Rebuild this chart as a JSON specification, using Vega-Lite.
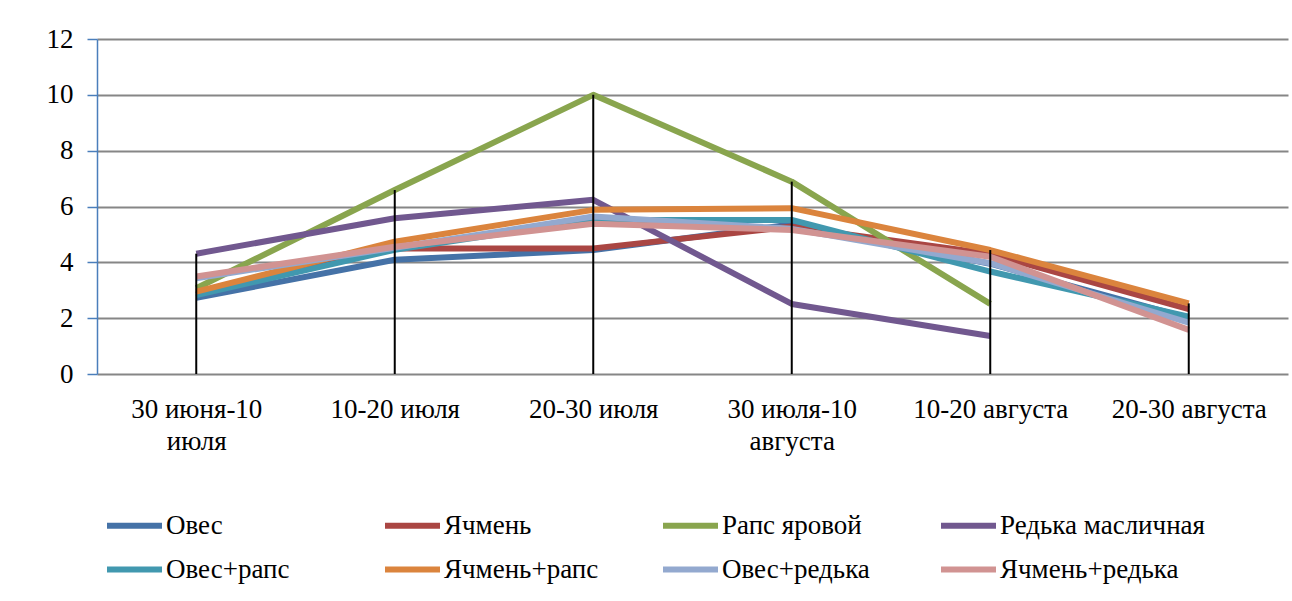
{
  "$schema": "https://vega.github.io/schema/vega-lite/v6.json",
  "width": 1191,
  "height": 335,
  "autosize": {"type": "none"},
  "padding": {"left": 97, "top": 39, "right": 4, "bottom": 227},
  "background": "white",
  "config": {
    "view": {"stroke": null},
    "font": "Liberation Serif",
    "axis": {"labelFont": "Liberation Serif", "labelFontSize": 27},
    "legend": {"labelFont": "Liberation Serif", "labelFontSize": 27}
  },
  "data": {
    "values": [
      {"series": "Овес", "period": "30 июня-10 июля", "v": 2.73},
      {"series": "Овес", "period": "10-20 июля", "v": 4.09},
      {"series": "Овес", "period": "20-30 июля", "v": 4.44},
      {"series": "Овес", "period": "30 июля-10 августа", "v": 5.36},
      {"series": "Овес", "period": "10-20 августа", "v": 3.95},
      {"series": "Овес", "period": "20-30 августа", "v": 2.0},
      {"series": "Ячмень", "period": "30 июня-10 июля", "v": 2.85},
      {"series": "Ячмень", "period": "10-20 июля", "v": 4.5},
      {"series": "Ячмень", "period": "20-30 июля", "v": 4.5},
      {"series": "Ячмень", "period": "30 июля-10 августа", "v": 5.28},
      {"series": "Ячмень", "period": "10-20 августа", "v": 4.3},
      {"series": "Ячмень", "period": "20-30 августа", "v": 2.32},
      {"series": "Рапс яровой", "period": "30 июня-10 июля", "v": 3.07},
      {"series": "Рапс яровой", "period": "10-20 июля", "v": 6.59},
      {"series": "Рапс яровой", "period": "20-30 июля", "v": 10.0},
      {"series": "Рапс яровой", "period": "30 июля-10 августа", "v": 6.89},
      {"series": "Рапс яровой", "period": "10-20 августа", "v": 2.51},
      {"series": "Редька масличная", "period": "30 июня-10 июля", "v": 4.31},
      {"series": "Редька масличная", "period": "10-20 июля", "v": 5.58},
      {"series": "Редька масличная", "period": "20-30 июля", "v": 6.24},
      {"series": "Редька масличная", "period": "30 июля-10 августа", "v": 2.51},
      {"series": "Редька масличная", "period": "10-20 августа", "v": 1.36},
      {"series": "Овес+рапс", "period": "30 июня-10 июля", "v": 2.83},
      {"series": "Овес+рапс", "period": "10-20 июля", "v": 4.45},
      {"series": "Овес+рапс", "period": "20-30 июля", "v": 5.52},
      {"series": "Овес+рапс", "period": "30 июля-10 августа", "v": 5.52},
      {"series": "Овес+рапс", "period": "10-20 августа", "v": 3.67},
      {"series": "Овес+рапс", "period": "20-30 августа", "v": 2.05},
      {"series": "Ячмень+рапс", "period": "30 июня-10 июля", "v": 2.95},
      {"series": "Ячмень+рапс", "period": "10-20 июля", "v": 4.74},
      {"series": "Ячмень+рапс", "period": "20-30 июля", "v": 5.88},
      {"series": "Ячмень+рапс", "period": "30 июля-10 августа", "v": 5.94},
      {"series": "Ячмень+рапс", "period": "10-20 августа", "v": 4.44},
      {"series": "Ячмень+рапс", "period": "20-30 августа", "v": 2.53},
      {"series": "Овес+редька", "period": "30 июня-10 июля", "v": 3.43},
      {"series": "Овес+редька", "period": "10-20 июля", "v": 4.52},
      {"series": "Овес+редька", "period": "20-30 июля", "v": 5.64},
      {"series": "Овес+редька", "period": "30 июля-10 августа", "v": 5.2},
      {"series": "Овес+редька", "period": "10-20 августа", "v": 3.97},
      {"series": "Овес+редька", "period": "20-30 августа", "v": 1.84},
      {"series": "Ячмень+редька", "period": "30 июня-10 июля", "v": 3.49},
      {"series": "Ячмень+редька", "period": "10-20 июля", "v": 4.56},
      {"series": "Ячмень+редька", "period": "20-30 июля", "v": 5.38},
      {"series": "Ячмень+редька", "period": "30 июля-10 августа", "v": 5.16},
      {"series": "Ячмень+редька", "period": "10-20 августа", "v": 4.2},
      {"series": "Ячмень+редька", "period": "20-30 августа", "v": 1.58}
    ]
  },
  "encoding": {
    "x": {
      "field": "period",
      "type": "nominal",
      "sort": ["30 июня-10 июля", "10-20 июля", "20-30 июля", "30 июля-10 августа", "10-20 августа", "20-30 августа"],
      "scale": {"type": "point", "padding": 0.5},
      "axis": {
        "title": null,
        "domain": false,
        "ticks": false,
        "grid": false,
        "labelAngle": 0,
        "labelFont": "Liberation Serif",
        "labelFontSize": 27,
        "labelColor": "black",
        "labelPadding": 22,
        "labelLineHeight": 32,
        "labelLimit": 300,
        "labelExpr": "split(replace(datum.value, '-10 ', '-10\\n'), '\\n')"
      }
    }
  },
  "layer": [
    {
      "mark": {"type": "line", "strokeWidth": 6, "strokeJoin": "round"},
      "encoding": {
        "y": {
          "field": "v",
          "type": "quantitative",
          "scale": {"domain": [0, 12]},
          "axis": {
            "title": null,
            "values": [0, 2, 4, 6, 8, 10, 12],
            "grid": true,
            "gridColor": "#868686",
            "gridWidth": 2,
            "gridOpacity": 1,
            "domainColor": "#4a7ebb",
            "domainWidth": 1.5,
            "tickColor": "#4a7ebb",
            "tickWidth": 1.5,
            "tickSize": 10,
            "labelFont": "Liberation Serif",
            "labelFontSize": 27,
            "labelColor": "black",
            "labelPadding": 14
          }
        },
        "color": {
          "field": "series",
          "type": "nominal",
          "sort": null,
          "scale": {
            "domain": ["Овес", "Ячмень", "Рапс яровой", "Редька масличная", "Овес+рапс", "Ячмень+рапс", "Овес+редька", "Ячмень+редька"],
            "range": ["#4572a7", "#aa4643", "#89a54e", "#71588f", "#4198af", "#db843d", "#93a9cf", "#d19392"]
          },
          "legend": {
            "orient": "none",
            "legendX": 7,
            "legendY": 456,
            "columns": 4,
            "direction": "horizontal",
            "title": null,
            "padding": 0,
            "symbolType": "stroke",
            "symbolSize": 3025,
            "symbolStrokeWidth": 6,
            "labelFont": "Liberation Serif",
            "labelFontSize": 27,
            "labelColor": "black",
            "labelOffset": 1,
            "labelLimit": 400,
            "columnPadding": 1,
            "rowPadding": -1,
            "gridAlign": "all"
          }
        }
      }
    },
    {
      "transform": [
        {"aggregate": [{"op": "max", "field": "v", "as": "vmax"}], "groupby": ["period"]}
      ],
      "mark": {"type": "rule", "color": "black", "strokeWidth": 2},
      "encoding": {
        "y": {"field": "vmax", "type": "quantitative"},
        "y2": {"datum": 0}
      }
    }
  ]
}
